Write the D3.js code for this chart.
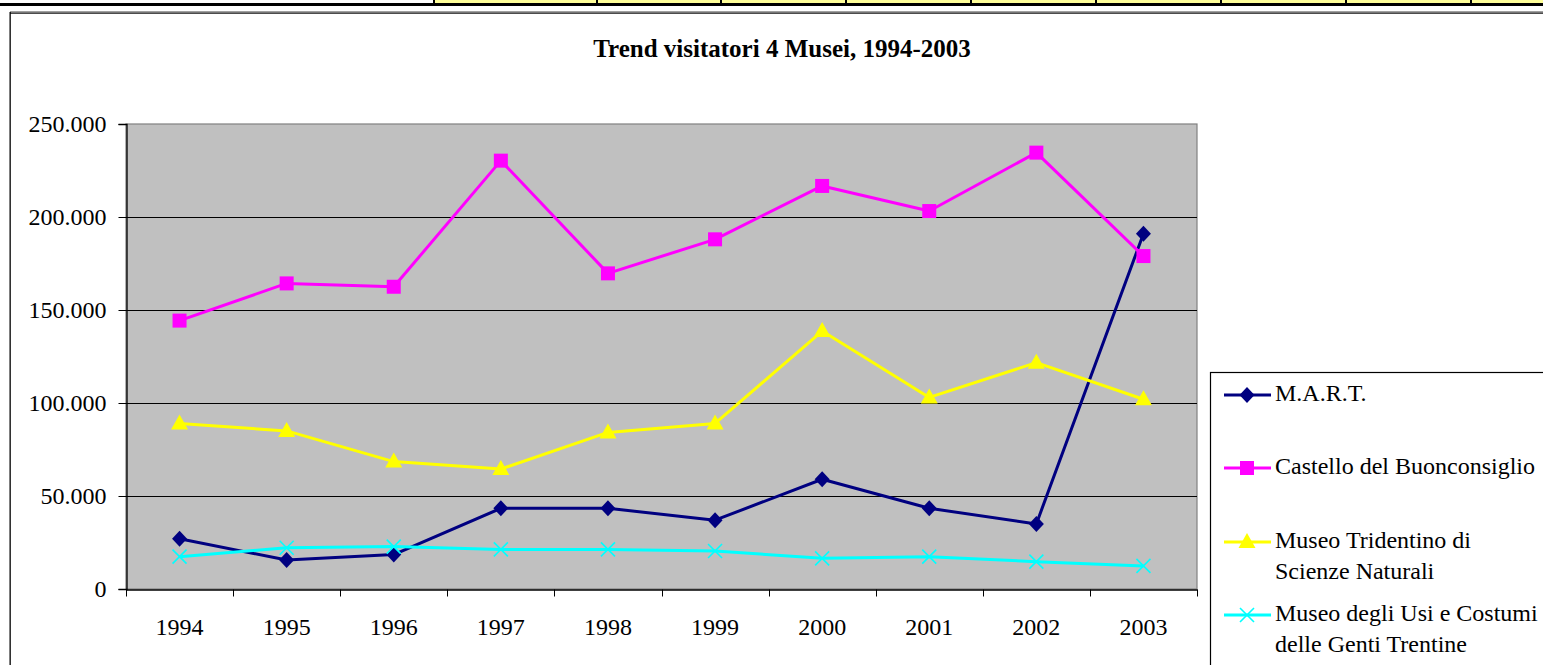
<!DOCTYPE html>
<html><head><meta charset="utf-8">
<script src="https://cdn.jsdelivr.net/npm/d3@7"></script>
<style>html,body{margin:0;padding:0;background:#fff;overflow:hidden}</style>
</head><body>
<script>
const years = ["1994","1995","1996","1997","1998","1999","2000","2001","2002","2003"];
const seriesNames = ["M.A.R.T.","Castello del Buonconsiglio","Museo Tridentino di Scienze Naturali","Museo degli Usi e Costumi delle Genti Trentine"];
const mart      = [27000,15600,18500,43400,43400,37000,59000,43400,35000,191000];
const castello  = [144300,164300,162500,230300,169700,188000,216700,203200,234600,179000];
const tridentino= [89000,85000,68500,64500,84200,89000,138700,103000,121700,102000];
const usi       = [17400,22200,22800,21300,21300,20400,16500,17400,14700,12400];
const yTicks = [0,50000,100000,150000,200000,250000];
const yTickLabels = ["0","50.000","100.000","150.000","200.000","250.000"];
const legendLines = [["M.A.R.T."],["Castello del Buonconsiglio"],["Museo Tridentino di","Scienze Naturali"],["Museo degli Usi e Costumi","delle Genti Trentine"]];
const topCellEdges = [435,598,722,847,972,1097,1222,1347,1472,1543];

const W=1543,H=665;
const svg=d3.select("body").append("svg").attr("width",W).attr("height",H);
const FONT="'Liberation Serif','Times New Roman',serif";

// top spreadsheet strip
for(let i=0;i<topCellEdges.length-1;i++){
  svg.append("rect").attr("x",topCellEdges[i]).attr("y",0).attr("width",topCellEdges[i+1]-topCellEdges[i]).attr("height",3.5).attr("fill","#ffff99");
}
topCellEdges.slice(0,-1).forEach(x=>svg.append("rect").attr("x",x-2).attr("y",0).attr("width",2).attr("height",4).attr("fill","#000"));
svg.append("rect").attr("x",0).attr("y",3).attr("width",W).attr("height",3).attr("fill","#000");

// chart frame
svg.append("rect").attr("x",10).attr("y",11).attr("width",W-10).attr("height",1.2).attr("fill","#a0a0a0");
svg.append("rect").attr("x",10).attr("y",12.5).attr("width",W-10).attr("height",1.2).attr("fill","#000");
svg.append("rect").attr("x",9.5).attr("y",12).attr("width",1.3).attr("height",H-12).attr("fill","#000");

// title
svg.append("text").attr("x",782).attr("y",57).attr("text-anchor","middle")
  .attr("font-family",FONT).attr("font-size",25).attr("font-weight","bold").attr("fill","#000")
  .text("Trend visitatori 4 Musei, 1994-2003");

const L=126,R=1197,T=124,B=589;
const x=d3.scaleBand().domain(years).range([L,R]);
const y=d3.scaleLinear().domain([0,250000]).range([B,T]);

svg.append("rect").attr("x",L).attr("y",T).attr("width",R-L).attr("height",B-T).attr("fill","#c0c0c0")
  .attr("stroke","#808080").attr("stroke-width",1.2);

// gridlines
svg.append("g").selectAll("line").data(yTicks.slice(1,-1)).join("line")
  .attr("x1",L).attr("x2",R).attr("y1",d=>Math.round(y(d))+0.5).attr("y2",d=>Math.round(y(d))+0.5)
  .attr("stroke","#000").attr("stroke-width",1);

// y axis
const yAxis=d3.axisLeft(y).tickValues(yTicks).tickFormat((d,i)=>yTickLabels[i]).tickSize(8).tickPadding(12);
const gy=svg.append("g").attr("transform",`translate(${L+0.5},0)`).call(yAxis);
gy.select(".domain").attr("stroke","#000").attr("stroke-width",1.3);
gy.selectAll(".tick line").attr("stroke","#000");
gy.selectAll("text").attr("font-family",FONT).attr("font-size",24).attr("fill","#000").attr("dy","0.33em");

// x axis
const xAxis=d3.axisBottom(x).tickSize(0).tickPadding(34);
const gx=svg.append("g").attr("transform",`translate(0,${B+0.5})`).call(xAxis);
gx.select(".domain").attr("stroke","#000").attr("stroke-width",1.3);
gx.selectAll("text").attr("font-family",FONT).attr("font-size",24).attr("fill","#000").attr("dy","0");
const edges=years.map(d=>x(d)).concat([x(years[years.length-1])+x.bandwidth()]);
gx.append("g").selectAll("line").data(edges).join("line")
  .attr("x1",d=>Math.round(d)+0.5).attr("x2",d=>Math.round(d)+0.5).attr("y1",0).attr("y2",7).attr("stroke","#000");
gx.selectAll(".tick text").attr("y",45);

const cx=d=>x(d)+x.bandwidth()/2;
const series=[
  {name:seriesNames[0],values:mart,color:"#000080",marker:"diamond"},
  {name:seriesNames[1],values:castello,color:"#ff00ff",marker:"square"},
  {name:seriesNames[2],values:tridentino,color:"#ffff00",marker:"triangle"},
  {name:seriesNames[3],values:usi,color:"#00ffff",marker:"x"}
];
function drawMarker(g,type,color,px,py){
  if(type==="diamond") g.append("path").attr("d",`M${px},${py-8}L${px+7.5},${py}L${px},${py+8}L${px-7.5},${py}Z`).attr("fill",color);
  else if(type==="square") g.append("rect").attr("x",px-7).attr("y",py-7).attr("width",14).attr("height",14).attr("fill",color);
  else if(type==="triangle") g.append("path").attr("d",`M${px},${py-9}L${px+8.5},${py+6}L${px-8.5},${py+6}Z`).attr("fill",color);
  else if(type==="x") g.append("path").attr("d",`M${px-7},${py-7}L${px+7},${py+7}M${px-7},${py+7}L${px+7},${py-7}`).attr("stroke",color).attr("stroke-width",1.6).attr("fill","none");
}
const line=d3.line().x((d,i)=>cx(years[i])).y(d=>y(d));
series.forEach(s=>{
  svg.append("path").datum(s.values).attr("d",line).attr("fill","none").attr("stroke",s.color).attr("stroke-width",3).attr("stroke-linejoin","round");
});
series.forEach(s=>{
  const g=svg.append("g");
  s.values.forEach((v,i)=>drawMarker(g,s.marker,s.color,cx(years[i]),y(v)));
});

// legend
svg.append("rect").attr("x",1210.5).attr("y",372.5).attr("width",400).attr("height",400).attr("fill","#fff").attr("stroke","#000").attr("stroke-width",1.2);
const legY=[395,468,542,615];
series.forEach((s,i)=>{
  const g=svg.append("g");
  g.append("line").attr("x1",1224).attr("x2",1271).attr("y1",legY[i]).attr("y2",legY[i]).attr("stroke",s.color).attr("stroke-width",3);
  drawMarker(g,s.marker,s.color,1247,legY[i]);
  const t=g.append("text").attr("font-family",FONT).attr("font-size",24).attr("fill","#000");
  legendLines[i].forEach((ln,j)=>t.append("tspan").attr("x",1275).attr("y",legY[i]+6+j*31).text(ln));
});
</script>
</body></html>
